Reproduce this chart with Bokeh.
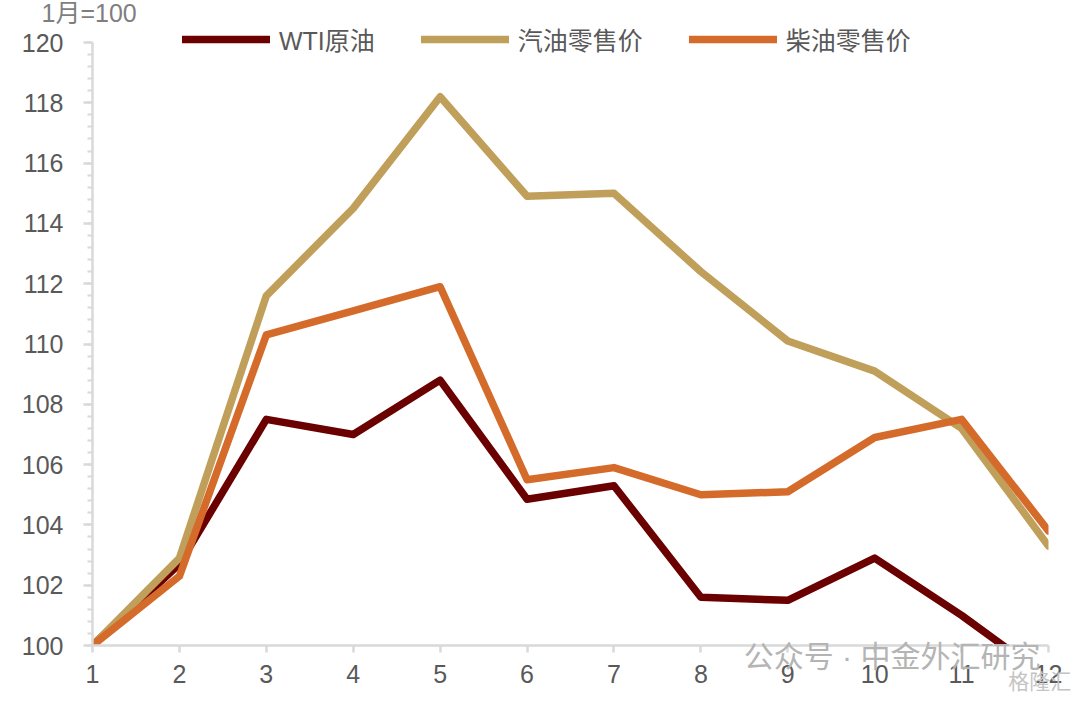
from bokeh.plotting import figure
from bokeh.models import Range1d, FixedTicker, Legend, LegendItem, LinearAxis
from bokeh.embed import file_html
from bokeh.resources import INLINE

months = [1, 2, 3, 4, 5, 6, 7, 8, 9, 10, 11, 12]
wti = [100, 102.7, 107.5, 107.0, 108.8, 104.85, 105.3, 101.6, 101.5, 102.9, 101.0, 98.9]
gasoline = [100, 102.9, 111.6, 114.5, 118.2, 114.9, 115.0, 112.4, 110.1, 109.1, 107.2, 103.3]
diesel = [100, 102.3, 110.3, 111.1, 111.9, 105.5, 105.9, 105.0, 105.1, 106.9, 107.5, 103.8]
series_names = ["WTI原油", "汽油零售价", "柴油零售价"]
colors = ["#6b0000", "#bf9f5a", "#d56b2a"]
y_ticks = [100, 102, 104, 106, 108, 110, 112, 114, 116, 118, 120]
y_minor = [round(100 + 0.4 * i, 1) for i in range(51)]
unit_text = "1月=100"
watermark = "公众号 · 中金外汇研究"
watermark2 = "格隆汇"

FONT = "Liberation Sans, Noto Sans CJK SC"

p = figure(width=1072, height=695, output_backend="svg", toolbar_location=None,
           x_range=Range1d(1, 12), y_range=Range1d(100, 120.664),
           min_border_left=92, min_border_right=24, min_border_top=0, min_border_bottom=50)
p.outline_line_color = None
p.xgrid.visible = False
p.ygrid.visible = False
p.background_fill_color = "white"

p.title.text = unit_text
p.title.text_font = FONT
p.title.text_font_size = "25px"
p.title.text_font_style = "normal"
p.title.text_color = "#7f7f7f"
p.title.align = "left"
p.title.offset = -51
p.title.standoff = -8

renderers = []
for vals, c in zip([wti, gasoline, diesel], colors):
    r = p.line(months, vals, line_color=c, line_width=7.5, line_join="round", line_cap="round")
    renderers.append(r)

# axes
for ax in (p.xaxis[0], p.yaxis[0]):
    ax.axis_line_color = "#d9d9d9"
    ax.axis_line_width = 2.5
    ax.major_tick_line_color = "#d9d9d9"
    ax.major_tick_line_width = 2.5
    ax.minor_tick_line_color = "#d9d9d9"
    ax.minor_tick_line_width = 2
    ax.major_label_text_font = FONT
    ax.major_label_text_font_size = "25px"
    ax.major_label_text_color = "#595959"

p.xaxis.ticker = FixedTicker(ticks=months)
p.xaxis.major_tick_in = 0
p.xaxis.major_tick_out = 7
p.xaxis.minor_tick_out = 0
p.xaxis.major_label_standoff = 12

p.yaxis.ticker = FixedTicker(ticks=y_ticks, minor_ticks=y_minor)
p.yaxis.bounds = (100, 120)
p.yaxis.major_tick_in = 0
p.yaxis.major_tick_out = 9
p.yaxis.minor_tick_in = 0
p.yaxis.minor_tick_out = 5
p.yaxis.major_label_standoff = 20

# watermark texts carried by label-only axes below the main x axis
wm_axis = LinearAxis(ticker=FixedTicker(ticks=[10.2]), major_label_overrides={10.2: watermark},
                     axis_line_color=None, major_tick_line_color=None, minor_tick_line_color=None,
                     major_label_text_font=FONT, major_label_text_font_size="30px",
                     major_label_text_color="#b4b4b4", major_label_standoff=-52)
p.add_layout(wm_axis, "below")
wm_axis2 = LinearAxis(ticker=FixedTicker(ticks=[11.9]), major_label_overrides={11.9: watermark2},
                      axis_line_color=None, major_tick_line_color=None, minor_tick_line_color=None,
                      major_label_text_font=FONT, major_label_text_font_size="21px",
                      major_label_text_color="#c4c4c4", major_label_standoff=-22)
p.add_layout(wm_axis2, "below")

legend = Legend(items=[LegendItem(label=n, renderers=[r]) for n, r in zip(series_names, renderers)],
                orientation="horizontal", location=(90, 588),
                label_text_font=FONT, label_text_font_size="25px", label_text_color="#595959",
                glyph_width=88, glyph_height=24, label_height=24, label_standoff=9,
                spacing=46, padding=0, margin=0,
                background_fill_alpha=0, border_line_alpha=0)
p.add_layout(legend, "center")

open("out.html", "w").write(file_html(p, INLINE))
